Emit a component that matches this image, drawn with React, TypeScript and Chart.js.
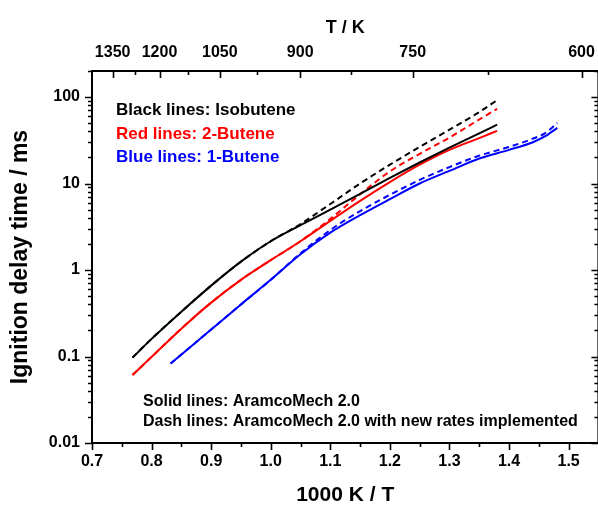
import React, { useEffect, useRef } from 'react';
import { Chart, registerables } from 'chart.js';

Chart.register(...registerables);

// ---- data ----
const isoX = [0.768, 0.8, 0.85, 0.9, 0.95, 1.0, 1.05, 1.1, 1.15, 1.2, 1.25, 1.3, 1.35, 1.38];
const isoSolid = [0.097, 0.16, 0.33, 0.66, 1.25, 2.15, 3.3, 5.0, 7.6, 11.6, 17.5, 26, 38, 48];
const isoDash = [0.097, 0.16, 0.33, 0.66, 1.25, 2.15, 3.4, 5.8, 10, 16.5, 26.5, 42, 67, 92];

const but2X = [0.768, 0.8, 0.85, 0.9, 0.95, 1.0, 1.05, 1.1, 1.15, 1.2, 1.25, 1.3, 1.35, 1.38];
const but2Solid = [0.061, 0.099, 0.21, 0.42, 0.77, 1.3, 2.15, 3.7, 6.3, 10.4, 16.5, 24.5, 33.5, 40.7];
const but2Dash = [0.061, 0.099, 0.21, 0.42, 0.77, 1.3, 2.15, 3.9, 7.5, 13.8, 22, 34, 55, 73];

const but1X = [0.832, 0.9, 0.95, 1.0, 1.05, 1.1, 1.15, 1.2, 1.25, 1.3, 1.35, 1.4, 1.44, 1.46, 1.481];
const but1Solid = [0.083, 0.205, 0.4, 0.77, 1.52, 2.7, 4.3, 6.6, 10, 14, 19.5, 24.5, 30, 35, 44];
const but1Dash = [0.083, 0.205, 0.4, 0.77, 1.56, 2.9, 4.8, 7.4, 11, 15.5, 21, 26.5, 33, 38, 50];

const xTickValues = [0.7, 0.8, 0.9, 1.0, 1.1, 1.2, 1.3, 1.4, 1.5];
const xMinorValues = [0.75, 0.85, 0.95, 1.05, 1.15, 1.25, 1.35, 1.45, 1.55];
const topTemps = [1350, 1200, 1050, 900, 750, 600];
const topMinorTemps = [1275, 1125, 975, 825, 675];
const yTickValues = [0.01, 0.1, 1, 10, 100];

const legendLines = [
  { text: 'Black lines: Isobutene', color: '#000000' },
  { text: 'Red lines: 2-Butene', color: '#ff0000' },
  { text: 'Blue lines: 1-Butene', color: '#0000ff' },
];
const noteLines = ['Solid lines: AramcoMech 2.0', 'Dash lines: AramcoMech 2.0 with new rates implemented'];

const FONT = '"Liberation Sans", Arial, Helvetica, sans-serif';

const zip = (xs: number[], ys: number[]) => xs.map((x, i) => ({ x, y: ys[i] }));

const framePlugin = {
  id: 'frameTicks',
  afterDraw(chart: any) {
    const { ctx, chartArea: a, scales } = chart;
    const xs = scales.x;
    const xt = scales.x2;
    const ys = scales.y;
    ctx.save();
    ctx.strokeStyle = '#000';
    ctx.lineWidth = 2;
    ctx.beginPath();
    ctx.rect(a.left, a.top, a.right - a.left, a.bottom - a.top);
    ctx.stroke();

    ctx.lineWidth = 1.6;
    ctx.beginPath();
    // bottom ticks (outward)
    xTickValues.forEach((v) => {
      const p = Math.round(xs.getPixelForValue(v)) + 0.5;
      ctx.moveTo(p, a.bottom);
      ctx.lineTo(p, a.bottom + 7);
    });
    xMinorValues.forEach((v) => {
      const p = Math.round(xs.getPixelForValue(v)) + 0.5;
      if (p > a.right) return;
      ctx.moveTo(p, a.bottom);
      ctx.lineTo(p, a.bottom + 4);
    });
    // top ticks (inward)
    topTemps.forEach((T) => {
      const p = Math.round(xt.getPixelForValue(1000 / T)) + 0.5;
      ctx.moveTo(p, a.top);
      ctx.lineTo(p, a.top + 7);
    });
    topMinorTemps.forEach((T) => {
      const p = Math.round(xt.getPixelForValue(1000 / T)) + 0.5;
      ctx.moveTo(p, a.top);
      ctx.lineTo(p, a.top + 4);
    });
    // y ticks: left outward, right inward
    for (let d = 0.01; d < 1000; d *= 10) {
      for (let m = 1; m <= 9; m++) {
        const v = d * m;
        if (v > 200.0001) continue;
        const p = Math.round(ys.getPixelForValue(v)) + 0.5;
        if (p < a.top || p > a.bottom + 1) continue;
        const len = m === 1 ? 7 : 4;
        ctx.moveTo(a.left, p);
        ctx.lineTo(a.left - len, p);
        ctx.moveTo(a.right, p);
        ctx.lineTo(a.right - len, p);
      }
    }
    ctx.stroke();

    // text annotations
    ctx.textBaseline = 'middle';
    ctx.textAlign = 'left';
    ctx.font = `bold 17px ${FONT}`;
    legendLines.forEach((l, i) => {
      ctx.fillStyle = l.color;
      ctx.fillText(l.text, 116, 110.5 + i * 23.5);
    });
    ctx.font = `bold 16px ${FONT}`;
    ctx.fillStyle = '#000';
    noteLines.forEach((t, i) => {
      ctx.fillText(t, 143, 402 + i * 20);
    });
    ctx.restore();
  },
};

export default function App() {
  const ref = useRef<HTMLCanvasElement | null>(null);
  useEffect(() => {
    if (!ref.current) return;
    const solid = (data: any, color: string) => ({
      data,
      borderColor: color,
      backgroundColor: color,
      borderWidth: 2,
      pointRadius: 0,
      fill: false,
      cubicInterpolationMode: 'monotone' as const,
    });
    const dashed = (data: any, color: string) => ({ ...solid(data, color), borderDash: [6, 4] });
    const tickFont = { family: FONT, size: 16, weight: 'bold' as const };
    const chart = new Chart(ref.current, {
      type: 'line',
      data: {
        datasets: [
          solid(zip(isoX, isoSolid), '#000000'),
          dashed(zip(isoX, isoDash), '#000000'),
          solid(zip(but2X, but2Solid), '#ff0000'),
          dashed(zip(but2X, but2Dash), '#ff0000'),
          solid(zip(but1X, but1Solid), '#0000ff'),
          dashed(zip(but1X, but1Dash), '#0000ff'),
        ],
      },
      options: {
        animation: false,
        responsive: false,
        layout: { padding: { left: 0, right: 4, top: 0, bottom: 0 } },
        plugins: { legend: { display: false }, tooltip: { enabled: false } },
        scales: {
          x: {
            type: 'linear',
            position: 'bottom',
            min: 0.7,
            max: 1.55,
            afterBuildTicks: (s: any) => {
              s.ticks = xTickValues.map((v) => ({ value: v }));
            },
            afterFit: (s: any) => {
              s.height = 62;
            },
            grid: { display: false, drawTicks: false },
            border: { display: false },
            ticks: {
              callback: (v: any) => Number(v).toFixed(1),
              font: tickFont,
              color: '#000',
              padding: 9,
              maxRotation: 0,
              autoSkip: false,
            },
            title: {
              display: true,
              text: '1000 K / T',
              color: '#000',
              font: { family: FONT, size: 21, weight: 'bold', lineHeight: 0.9 },
              padding: { top: 0, bottom: 0 },
            },
          },
          x2: {
            type: 'linear',
            position: 'top',
            min: 0.7,
            max: 1.7,
            afterBuildTicks: (s: any) => {
              s.ticks = topTemps.map((T) => ({ value: 1000 / T }));
            },
            afterFit: (s: any) => {
              s.height = 71;
            },
            grid: { display: false, drawTicks: false },
            border: { display: false },
            ticks: {
              callback: (v: any) => String(Math.round(1000 / Number(v))),
              font: tickFont,
              color: '#000',
              padding: 9,
              maxRotation: 0,
              autoSkip: false,
            },
            title: {
              display: true,
              text: 'T / K',
              color: '#000',
              font: { family: FONT, size: 18, weight: 'bold' },
              padding: { top: 17, bottom: 0 },
            },
          },
          y: {
            type: 'logarithmic',
            position: 'left',
            min: 0.01,
            max: 200,
            afterBuildTicks: (s: any) => {
              s.ticks = yTickValues.map((v) => ({ value: v }));
            },
            afterFit: (s: any) => {
              s.width = 92;
            },
            grid: { display: false, drawTicks: false },
            border: { display: false },
            ticks: {
              callback: (v: any) => String(v),
              font: tickFont,
              color: '#000',
              padding: 12,
              autoSkip: false,
            },
            title: {
              display: true,
              text: 'Ignition delay time / ms',
              color: '#000',
              font: { family: FONT, size: 23, weight: 'bold', lineHeight: 1.0 },
              padding: { top: 9, bottom: 0 },
            },
          },
        },
      },
      plugins: [framePlugin],
    });
    return () => chart.destroy();
  }, []);

  return (
    <div style={{ position: 'absolute', left: 0, top: 0, width: 598, height: 505, overflow: 'hidden', background: '#fff' }}>
      <canvas ref={ref} width={604} height={505} style={{ display: 'block' }} />
    </div>
  );
}
